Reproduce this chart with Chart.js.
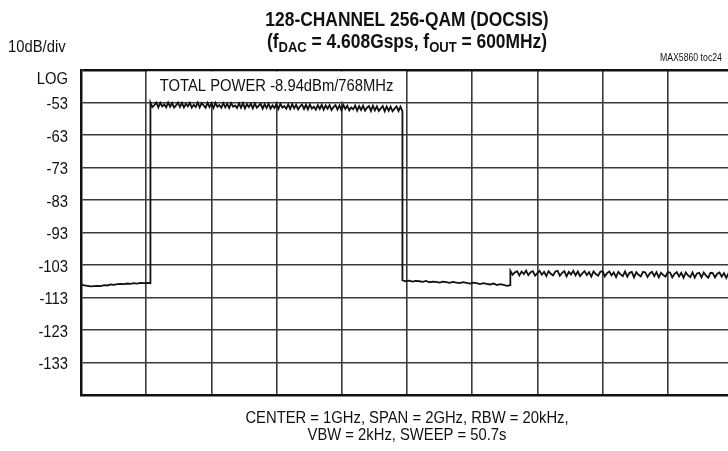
<!DOCTYPE html>
<html>
<head>
<meta charset="utf-8">
<script src="https://cdn.jsdelivr.net/npm/chart.js@4.4.1/dist/chart.umd.min.js"></script>
<style>
  html, body { margin: 0; padding: 0; background: #fff; overflow: hidden; }
  #wrap { width: 745px; height: 451px; }
</style>
</head>
<body>
<div id="wrap"><canvas id="spectrumChart" width="745" height="451"></canvas></div>
<script>
// spectrum trace, dBm
// each segment spans [start, end] MHz, points spread evenly inside it
const segmentEdgesMHz = [0, 213, 986, 1317, 2000];

const floorLow = [-109.0, -109.3, -109.4, -109.6, -109.5, -109.4, -109.5, -109.2, -109.3, -109.0,
    -109.1, -108.9, -108.8, -108.9, -108.7, -108.8, -108.6, -108.7, -108.5, -108.6, -108.5, -108.6];

const bandPower = [
    -53.0, -54.4, -53.8, -53.0, -54.5, -53.1, -54.2, -53.6, -54.5, -53.0,
    -54.3, -53.2, -54.6, -53.9, -53.0, -54.4, -53.1, -54.5, -53.4, -54.2,
    -53.1, -54.6, -53.7, -54.4, -53.0, -54.5, -53.2, -53.9, -54.6, -53.1,
    -54.4, -53.3, -54.7, -53.1, -54.3, -53.8, -54.6, -53.2, -54.5, -53.4,
    -54.7, -53.2, -54.3, -53.9, -54.7, -53.3, -54.6, -53.2, -54.8, -53.5,
    -54.4, -53.4, -54.8, -53.3, -54.6, -54.0, -53.4, -54.9, -53.5, -54.7,
    -53.4, -54.9, -53.9, -54.7, -53.5, -55.0, -53.4, -54.6, -54.1, -54.9,
    -53.6, -55.0, -53.5, -54.8, -53.7, -55.1, -54.2, -53.6, -55.0, -53.7,
    -55.1, -53.6, -54.9, -54.3, -55.2, -53.8, -55.0, -53.7, -55.2, -53.9,
    -54.9, -53.8, -55.3, -54.4, -53.8, -55.2, -53.9, -55.4, -53.8, -55.0,
    -54.0, -55.4, -54.5, -55.1, -53.9, -55.5, -54.1, -55.3, -54.0, -55.5,
    -54.6, -54.1, -55.6, -54.0, -55.4, -54.2, -55.6, -54.8, -54.1, -55.7,
    -54.2, -55.5, -54.3, -55.7, -54.9, -54.2, -55.6, -54.3, -55.7];

const floorMid = [-107.7, -108.0, -107.8, -108.1, -107.9, -108.0, -108.2, -107.9, -108.3, -108.1,
    -108.2, -108.4, -108.1, -108.3, -108.5, -108.2, -108.4, -108.6, -108.3, -108.5,
    -108.7, -108.4, -108.6, -108.9, -108.6, -108.8, -109.0, -108.7, -109.2, -108.9,
    -109.1, -109.4, -109.2];

const floorHigh = [
    -104.8, -106.0, -105.3, -104.9, -106.2, -105.0, -105.8, -104.7, -106.1, -105.2,
    -104.9, -106.3, -105.5, -104.8, -106.0, -105.1, -106.4, -104.9, -105.7, -106.2,
    -105.0, -104.8, -106.3, -105.4, -104.9, -106.5, -105.1, -105.9, -104.8, -106.2,
    -105.0, -106.4, -105.6, -104.9, -106.1, -105.2, -106.6, -105.0, -105.8, -106.3,
    -105.1, -104.9, -106.5, -105.5, -105.0, -106.2, -105.3, -106.7, -105.1, -105.9,
    -106.4, -105.0, -106.6, -105.4, -105.1, -106.8, -105.2, -106.0, -106.5, -105.1,
    -105.3, -106.7, -105.6, -105.1, -106.4, -105.2, -106.8, -105.4, -106.1, -106.6,
    -105.2, -105.3, -106.8, -105.7, -105.2, -106.5, -105.4, -106.9, -105.3, -106.2,
    -106.7, -105.3, -106.9, -105.6, -105.4, -106.8, -105.3, -106.3, -106.9, -105.4,
    -105.5, -106.8, -105.7, -105.3, -106.6, -105.5, -107.0, -105.6, -106.4, -106.9];

const yTicksDb = [-143, -133, -123, -113, -103, -93, -83, -73, -63, -53, -43];

const titleLine1 = '128-CHANNEL 256-QAM (DOCSIS)';
const bottomLines = ['CENTER = 1GHz, SPAN = 2GHz, RBW = 20kHz,', 'VBW = 2kHz, SWEEP = 50.7s'];
const powerLabel = 'TOTAL POWER -8.94dBm/768MHz';

const FONT = '"Liberation Sans", Arial, sans-serif';
const NARROW = 0.87; // the original uses a condensed face

function buildTrace() {
    let segs = [floorLow, bandPower, floorMid, floorHigh];
    let pts = [];
    for (let s = 0; s < segs.length; s++) {
        let a = segmentEdgesMHz[s], b = segmentEdgesMHz[s + 1];
        let vals = segs[s];
        for (let i = 0; i < vals.length; i++) {
            pts.push({ x: a + (b - a) * i / (vals.length - 1), y: vals[i] });
        }
    }
    return pts;
}

// draw text squeezed horizontally, anchored at x
function narrowText(ctx, text, x, y, align, font) {
    ctx.save();
    ctx.font = font;
    ctx.textAlign = align;
    ctx.translate(x, y);
    ctx.scale(NARROW, 1);
    ctx.fillText(text, 0, 0);
    ctx.restore();
}

const annotations = {
    id: 'annotations',
    beforeDatasetsDraw(chart) {
        const ctx = chart.ctx;
        const x = chart.scales.x, y = chart.scales.y;
        let l = x.getPixelForValue(200) + 1, r = x.getPixelForValue(1000) - 1;
        let t = y.getPixelForValue(-43) + 1.5, b = y.getPixelForValue(-53) - 1;
        ctx.save();
        ctx.fillStyle = '#fff';
        ctx.fillRect(l, t, r - l, b - t);
        ctx.fillStyle = '#111';
        ctx.textBaseline = 'middle';
        narrowText(ctx, powerLabel, (l + r) / 2, 86, 'center', '17px ' + FONT);
        ctx.restore();
    },
    afterDraw(chart) {
        const ctx = chart.ctx;
        const area = chart.chartArea;
        const y = chart.scales.y;
        let cx = (area.left + area.right) / 2;
        ctx.save();
        ctx.fillStyle = '#111';
        ctx.textBaseline = 'alphabetic';

        narrowText(ctx, titleLine1, cx, 26, 'center', 'bold 20px ' + FONT);

        // second title line with subscripts
        let parts = [
            ['(f', 20, 0], ['DAC', 15, 4], [' = 4.608Gsps, f', 20, 0], ['OUT', 15, 4], [' = 600MHz)', 20, 0]
        ];
        let total = 0;
        parts.forEach(p => { ctx.font = 'bold ' + p[1] + 'px ' + FONT; total += ctx.measureText(p[0]).width * NARROW; });
        let px = cx - total / 2;
        parts.forEach(p => {
            let f = 'bold ' + p[1] + 'px ' + FONT;
            narrowText(ctx, p[0], px, 48 + p[2], 'left', f);
            ctx.font = f;
            px += ctx.measureText(p[0]).width * NARROW;
        });

        narrowText(ctx, '10dB/div', 8, 52, 'left', '17px ' + FONT);
        narrowText(ctx, 'LOG', area.left - 13, 84, 'right', '17px ' + FONT);

        // y tick labels
        ctx.textBaseline = 'middle';
        yTicksDb.forEach(v => {
            if (v === -43 || v === -143) return;
            narrowText(ctx, String(v), area.left - 13, y.getPixelForValue(v) + 2, 'right', '17px ' + FONT);
        });
        ctx.textBaseline = 'alphabetic';

        narrowText(ctx, 'MAX5860 toc24', 660, 61, 'left', '10px ' + FONT);

        narrowText(ctx, bottomLines[0], cx, 423, 'center', '17px ' + FONT);
        narrowText(ctx, bottomLines[1], cx, 440, 'center', '17px ' + FONT);
        ctx.restore();
    }
};

function createChart() {
    var node = document.getElementById('spectrumChart');

    new Chart(node, {
        type: 'line',
        data: {
            datasets: [{
                data: buildTrace(),
                borderColor: '#111',
                borderWidth: 1.8,
                pointRadius: 0,
                tension: 0
            }]
        },
        options: {
            responsive: false,
            animation: false,
            devicePixelRatio: 1,
            layout: { padding: { top: 70, right: 12, left: 0, bottom: 0 } },
            plugins: {
                legend: { display: false },
                tooltip: { enabled: false }
            },
            scales: {
                x: {
                    type: 'linear',
                    min: 0,
                    max: 2000,
                    ticks: { display: false, stepSize: 200 },
                    grid: { color: '#3a3a3a', lineWidth: 1.6, drawTicks: false },
                    border: { color: '#111', width: 2.5 },
                    afterFit: function (scale) { scale.height = 56; }
                },
                y: {
                    min: yTicksDb[0],
                    max: yTicksDb[yTicksDb.length - 1],
                    afterBuildTicks: function (scale) {
                        scale.ticks = yTicksDb.map(v => ({ value: v }));
                    },
                    ticks: { display: false },
                    grid: {
                        color: function (c) { return c.tick && c.tick.value === -43 ? '#111' : '#3a3a3a'; },
                        lineWidth: function (c) { return c.tick && c.tick.value === -43 ? 2.5 : 1.6; },
                        drawTicks: false
                    },
                    border: { color: '#111', width: 2.5 },
                    afterFit: function (scale) { scale.width = 81; }
                }
            }
        },
        plugins: [annotations]
    });
}

createChart();
</script>
</body>
</html>
